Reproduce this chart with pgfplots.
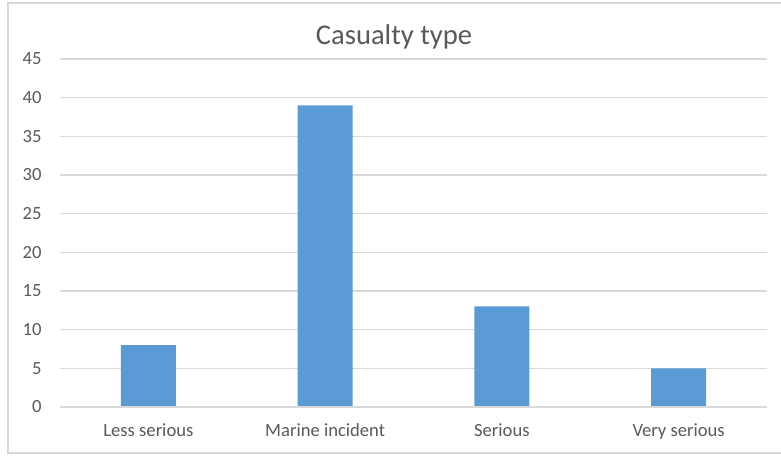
\documentclass[border=0pt]{standalone}
\usepackage{pgfplots}
\pgfplotsset{compat=1.18}
\usepackage{fontspec}
\setmainfont{Carlito}
\definecolor{barblue}{HTML}{5B9BD5}
\definecolor{gridgray}{HTML}{D9D9D9}
\definecolor{txtgray}{HTML}{595959}
\begin{document}
\begin{tikzpicture}
% picture is 781x455 px, 1 px = 0.5 pt
\useasboundingbox (0,0) rectangle (390.5pt,227.5pt);
\draw[gridgray, line width=0.6pt] (4pt,1pt) rectangle (400pt,226pt);
\node[anchor=base, text=txtgray, font=\fontsize{14.3}{17}\selectfont] at (197pt,205pt) {Casualty type};
\begin{axis}[
    at={(30pt,24pt)}, anchor=south west,
    scale only axis,
    width=353.5pt, height=174pt,
    ybar, bar width=27.5pt,
    xmin=-0.5, xmax=3.5,
    ymin=0, ymax=45,
    xtick=data,
    xticklabels={Less serious, Marine incident, Serious, Very serious},
    ytick={0,5,...,45},
    axis line style={draw=none},
    major tick length=0pt,
    ymajorgrids,
    grid style={gridgray, line width=0.6pt},
    ticklabel style={text=txtgray, font=\fontsize{9.3}{11}\selectfont, inner sep=0pt},
    yticklabel style={anchor=east, xshift=-9pt},
    xticklabel style={anchor=base, yshift=-15pt},
    /pgf/number format/assume math mode=true,
    clip=false,
]
\addplot[fill=barblue, draw=none] coordinates {(0,8) (1,39) (2,13) (3,5)};
\draw[gridgray, line width=0.6pt] (axis cs:-0.5,0) -- (axis cs:3.5,0);
\end{axis}
\end{tikzpicture}
\end{document}
